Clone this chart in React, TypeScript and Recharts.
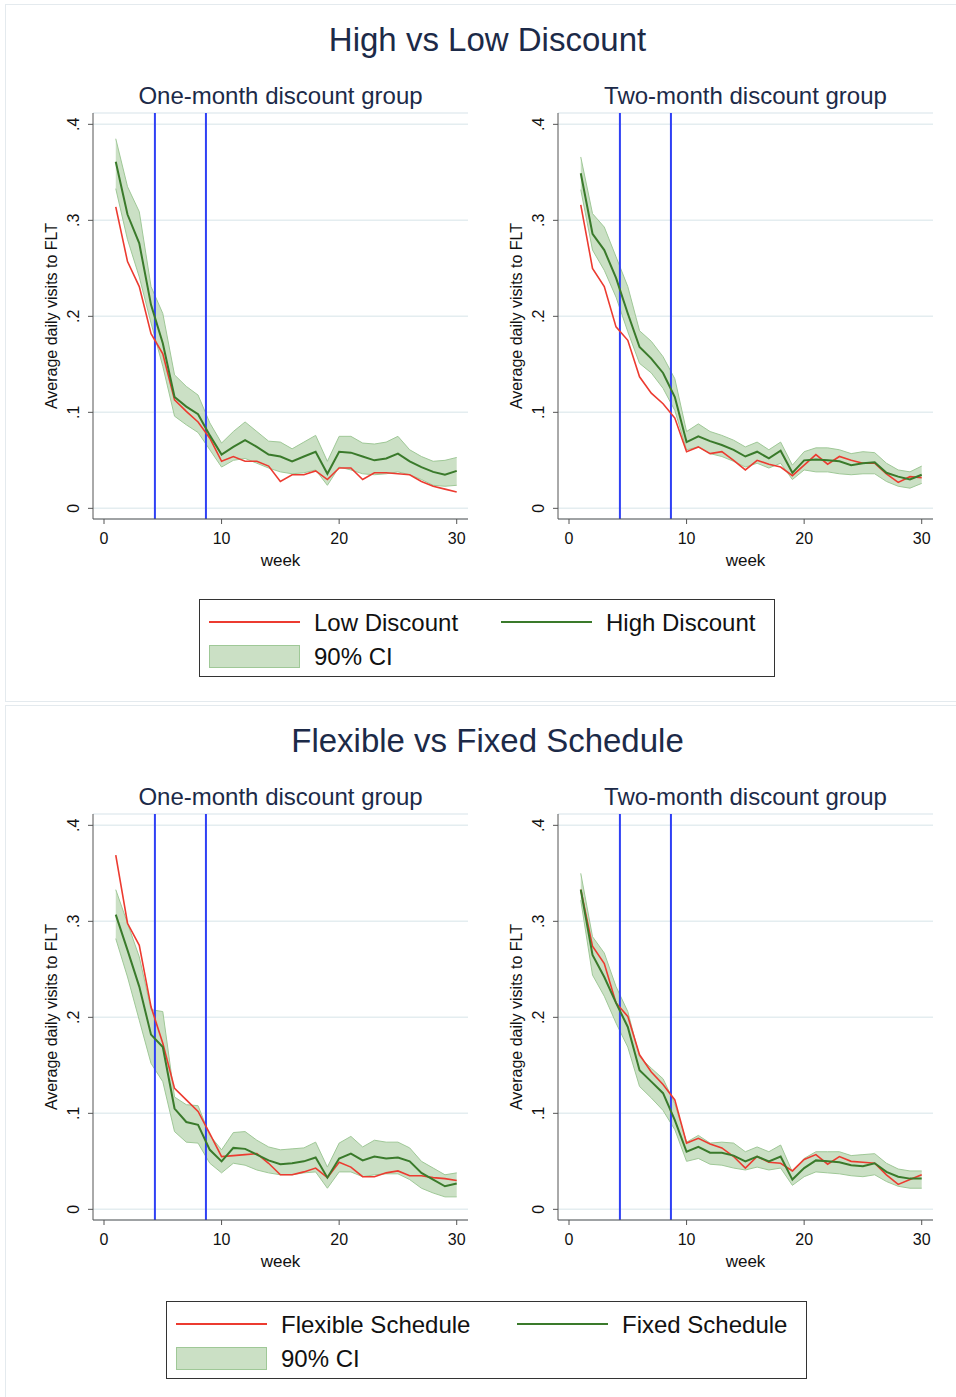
import React from 'react';
import { ComposedChart, Line, Area, XAxis, YAxis, CartesianGrid, ReferenceLine } from 'recharts';

const weeks = [1, 2, 3, 4, 5, 6, 7, 8, 9, 10, 11, 12, 13, 14, 15, 16, 17, 18, 19, 20, 21, 22, 23, 24, 25, 26, 27, 28, 29, 30];
const monthMarks = [4.33, 8.67];
const xTicks = [0, 10, 20, 30];
const yTicks = [0, 0.1, 0.2, 0.3, 0.4];

// High vs Low discount, one-month group
const lowDisc1M = [0.314, 0.257, 0.231, 0.182, 0.161, 0.113, 0.101, 0.09, 0.073, 0.049, 0.054, 0.049, 0.049, 0.044, 0.028, 0.035, 0.035, 0.039, 0.03, 0.042, 0.042, 0.03, 0.037, 0.037, 0.036, 0.035, 0.028, 0.023, 0.02, 0.017];
const highDisc1M = [0.361, 0.306, 0.276, 0.212, 0.172, 0.116, 0.106, 0.098, 0.076, 0.056, 0.064, 0.071, 0.064, 0.056, 0.054, 0.049, 0.054, 0.059, 0.036, 0.059, 0.058, 0.054, 0.05, 0.052, 0.057, 0.049, 0.043, 0.038, 0.035, 0.039];
const highDisc1MLo = [0.333, 0.28, 0.241, 0.193, 0.148, 0.096, 0.087, 0.079, 0.061, 0.043, 0.05, 0.052, 0.047, 0.042, 0.038, 0.036, 0.037, 0.04, 0.024, 0.043, 0.04, 0.036, 0.035, 0.036, 0.038, 0.035, 0.03, 0.024, 0.023, 0.024];
const highDisc1MHi = [0.385, 0.335, 0.309, 0.231, 0.203, 0.139, 0.127, 0.118, 0.089, 0.068, 0.08, 0.09, 0.08, 0.07, 0.069, 0.062, 0.069, 0.076, 0.049, 0.075, 0.075, 0.068, 0.067, 0.069, 0.075, 0.061, 0.054, 0.049, 0.05, 0.053];

// High vs Low discount, two-month group
const lowDisc2M = [0.316, 0.25, 0.231, 0.189, 0.175, 0.137, 0.12, 0.109, 0.094, 0.059, 0.064, 0.057, 0.059, 0.05, 0.04, 0.05, 0.046, 0.043, 0.034, 0.045, 0.056, 0.046, 0.054, 0.05, 0.047, 0.047, 0.036, 0.027, 0.033, 0.032];
const highDisc2M = [0.349, 0.286, 0.269, 0.24, 0.203, 0.168, 0.156, 0.141, 0.116, 0.069, 0.075, 0.07, 0.066, 0.061, 0.054, 0.059, 0.052, 0.06, 0.037, 0.05, 0.051, 0.05, 0.049, 0.045, 0.047, 0.048, 0.037, 0.033, 0.03, 0.035];
const highDisc2MLo = [0.332, 0.269, 0.248, 0.22, 0.184, 0.151, 0.141, 0.125, 0.102, 0.061, 0.064, 0.057, 0.054, 0.049, 0.043, 0.047, 0.042, 0.047, 0.03, 0.04, 0.038, 0.038, 0.036, 0.035, 0.036, 0.036, 0.028, 0.023, 0.021, 0.026];
const highDisc2MHi = [0.366, 0.307, 0.293, 0.262, 0.231, 0.185, 0.174, 0.158, 0.135, 0.08, 0.088, 0.08, 0.076, 0.071, 0.064, 0.069, 0.061, 0.069, 0.045, 0.059, 0.063, 0.063, 0.061, 0.057, 0.059, 0.058, 0.047, 0.04, 0.038, 0.044];

// Flexible vs Fixed schedule, one-month group
const flex1M = [0.369, 0.298, 0.275, 0.211, 0.173, 0.126, 0.114, 0.102, 0.079, 0.055, 0.056, 0.057, 0.058, 0.048, 0.036, 0.036, 0.039, 0.043, 0.033, 0.049, 0.044, 0.034, 0.034, 0.038, 0.04, 0.035, 0.035, 0.033, 0.032, 0.03];
const fixed1M = [0.307, 0.27, 0.232, 0.182, 0.169, 0.105, 0.091, 0.088, 0.062, 0.05, 0.064, 0.063, 0.057, 0.051, 0.047, 0.048, 0.05, 0.054, 0.033, 0.053, 0.058, 0.051, 0.055, 0.053, 0.054, 0.05, 0.038, 0.031, 0.024, 0.027];
const fixed1MLo = [0.282, 0.242, 0.197, 0.152, 0.133, 0.081, 0.07, 0.069, 0.048, 0.038, 0.048, 0.046, 0.041, 0.038, 0.036, 0.036, 0.038, 0.039, 0.022, 0.039, 0.039, 0.034, 0.036, 0.037, 0.037, 0.031, 0.022, 0.017, 0.013, 0.013];
const fixed1MHi = [0.333, 0.298, 0.263, 0.208, 0.206, 0.117, 0.109, 0.108, 0.077, 0.062, 0.08, 0.081, 0.072, 0.065, 0.062, 0.063, 0.064, 0.07, 0.044, 0.069, 0.076, 0.065, 0.072, 0.07, 0.07, 0.064, 0.05, 0.043, 0.036, 0.038];

// Flexible vs Fixed schedule, two-month group
const flex2M = [0.333, 0.274, 0.256, 0.215, 0.201, 0.161, 0.143, 0.13, 0.114, 0.069, 0.074, 0.068, 0.064, 0.055, 0.043, 0.055, 0.049, 0.048, 0.04, 0.052, 0.057, 0.047, 0.055, 0.05, 0.049, 0.048, 0.036, 0.026, 0.031, 0.036];
const fixed2M = [0.333, 0.265, 0.242, 0.215, 0.19, 0.145, 0.133, 0.121, 0.093, 0.06, 0.065, 0.059, 0.059, 0.056, 0.05, 0.055, 0.05, 0.055, 0.031, 0.043, 0.051, 0.05, 0.049, 0.046, 0.045, 0.048, 0.039, 0.034, 0.032, 0.032];
const fixed2MLo = [0.322, 0.244, 0.222, 0.194, 0.169, 0.128, 0.116, 0.103, 0.083, 0.05, 0.053, 0.047, 0.046, 0.043, 0.041, 0.044, 0.041, 0.043, 0.025, 0.034, 0.039, 0.038, 0.037, 0.035, 0.034, 0.036, 0.029, 0.024, 0.022, 0.022];
const fixed2MHi = [0.35, 0.284, 0.267, 0.232, 0.206, 0.159, 0.147, 0.136, 0.11, 0.07, 0.077, 0.069, 0.07, 0.069, 0.06, 0.065, 0.06, 0.067, 0.039, 0.053, 0.06, 0.06, 0.06, 0.056, 0.057, 0.058, 0.048, 0.042, 0.04, 0.04];

const FONT = '"Liberation Sans", Arial, Helvetica, sans-serif';
const NAVY = '#1c2a48';
const RED = '#ec3b30';
const GREEN = '#3a7a2b';
const BAND_FILL = '#cbe0c5';
const BAND_EDGE = '#9fc897';
const BLUE = '#2f40f5';

const buildRows = (red: number[], green: number[], lo: number[], hi: number[]) =>
  weeks.map((w, i) => ({ week: w, red: red[i], green: green[i], band: [lo[i], hi[i]] }));

const YTick = (props: any) => {
  const { x, y, payload } = props;
  const v = payload.value;
  const label = v === 0 ? '0' : String(Math.round(v * 10) / 10).replace(/^0/, '');
  return (
    <g transform={`translate(${x},${y}) rotate(-90)`}>
      <text textAnchor="middle" dy="0.35em" fontSize={16} fontFamily={FONT} fill="#111">
        {label}
      </text>
    </g>
  );
};

function Panel({ left, top, title, rows }: { left: number; top: number; title: string; rows: any[] }) {
  return (
    <>
      <div style={{ position: 'absolute', left: left + 63, top: top - 16, width: 375, textAlign: 'center', fontSize: 24, color: NAVY, lineHeight: '24px' }}>
        {title}
      </div>
      <div style={{ position: 'absolute', left: left + 22, top: top + 216, transform: 'translate(-50%,-50%) rotate(-90deg)', whiteSpace: 'nowrap', fontSize: 16, color: '#111' }}>
        Average daily visits to FLT
      </div>
      <div style={{ position: 'absolute', left: left + 63, top: top + 451, width: 375, textAlign: 'center', fontSize: 17, color: '#111', lineHeight: '20px' }}>
        week
      </div>
      <div style={{ position: 'absolute', left, top }}>
        <ComposedChart width={450} height={470} data={rows} margin={{ top: 13, right: 12, bottom: 1, left: 23 }}>
          <CartesianGrid vertical={false} stroke="#e4edf0" strokeWidth={1.5} />
          <XAxis
            dataKey="week"
            type="number"
            domain={[-0.936, 30.96]}
            ticks={xTicks}
            allowDataOverflow
            height={50}
            tickSize={5}
            tickMargin={9}
            stroke="#555"
            tick={{ fontSize: 16, fill: '#111', fontFamily: FONT }}
          />
          <YAxis
            type="number"
            domain={[-0.0111, 0.4118]}
            ticks={yTicks}
            allowDataOverflow
            width={40}
            tickSize={5}
            tickMargin={15}
            stroke="#555"
            tick={<YTick />}
          />
          <Area
            dataKey="band"
            type="linear"
            fill={BAND_FILL}
            fillOpacity={1}
            stroke={BAND_EDGE}
            strokeWidth={1}
            isAnimationActive={false}
          />
          {monthMarks.map((m) => (
            <ReferenceLine key={m} x={m} stroke={BLUE} strokeWidth={2} />
          ))}
          <Line dataKey="red" type="linear" stroke={RED} strokeWidth={1.6} dot={false} isAnimationActive={false} />
          <Line dataKey="green" type="linear" stroke={GREEN} strokeWidth={2} dot={false} isAnimationActive={false} />
        </ComposedChart>
      </div>
    </>
  );
}

function LegendBox({ left, top, width, redLabel, greenLabel, greenX }: { left: number; top: number; width: number; redLabel: string; greenLabel: string; greenX: number }) {
  const txt: React.CSSProperties = { position: 'absolute', fontSize: 24, color: '#111', lineHeight: '26px', whiteSpace: 'nowrap' };
  return (
    <div style={{ position: 'absolute', left, top, width, height: 78, border: '1.5px solid #333', boxSizing: 'border-box', background: '#fff' }}>
      <div style={{ position: 'absolute', left: 9, top: 21, width: 91, height: 2, background: RED }} />
      <div style={{ ...txt, left: 114, top: 10 }}>{redLabel}</div>
      <div style={{ position: 'absolute', left: greenX, top: 21, width: 91, height: 2, background: GREEN }} />
      <div style={{ ...txt, left: greenX + 105, top: 10 }}>{greenLabel}</div>
      <div style={{ position: 'absolute', left: 9, top: 45, width: 91, height: 23, background: BAND_FILL, border: `1.5px solid ${BAND_EDGE}`, boxSizing: 'border-box' }} />
      <div style={{ ...txt, left: 114, top: 44 }}>90% CI</div>
    </div>
  );
}

export default function App() {
  const p1 = buildRows(lowDisc1M, highDisc1M, highDisc1MLo, highDisc1MHi);
  const p2 = buildRows(lowDisc2M, highDisc2M, highDisc2MLo, highDisc2MHi);
  const p3 = buildRows(flex1M, fixed1M, fixed1MLo, fixed1MHi);
  const p4 = buildRows(flex2M, fixed2M, fixed2MLo, fixed2MHi);

  const mainTitle: React.CSSProperties = { position: 'absolute', left: 0, width: 975, textAlign: 'center', fontSize: 33, color: NAVY, lineHeight: '36px' };

  return (
    <div style={{ position: 'absolute', left: 0, top: 0, width: 956, height: 1397, background: '#fff', fontFamily: FONT, overflow: 'hidden' }}>
      <div style={{ position: 'absolute', left: 5, top: 4, width: 960, height: 698, border: '1px solid #e4eaee', boxSizing: 'border-box' }} />
      <div style={{ position: 'absolute', left: 5, top: 705, width: 960, height: 700, border: '1px solid #e4eaee', boxSizing: 'border-box' }} />

      <div style={{ ...mainTitle, top: 22 }}>High vs Low Discount</div>
      <Panel left={30} top={100} title="One-month discount group" rows={p1} />
      <Panel left={495} top={100} title="Two-month discount group" rows={p2} />
      <LegendBox left={199} top={599} width={576} redLabel="Low Discount" greenLabel="High Discount" greenX={301} />

      <div style={{ ...mainTitle, top: 723 }}>Flexible vs Fixed Schedule</div>
      <Panel left={30} top={801} title="One-month discount group" rows={p3} />
      <Panel left={495} top={801} title="Two-month discount group" rows={p4} />
      <LegendBox left={166} top={1301} width={641} redLabel="Flexible Schedule" greenLabel="Fixed Schedule" greenX={350} />
    </div>
  );
}
